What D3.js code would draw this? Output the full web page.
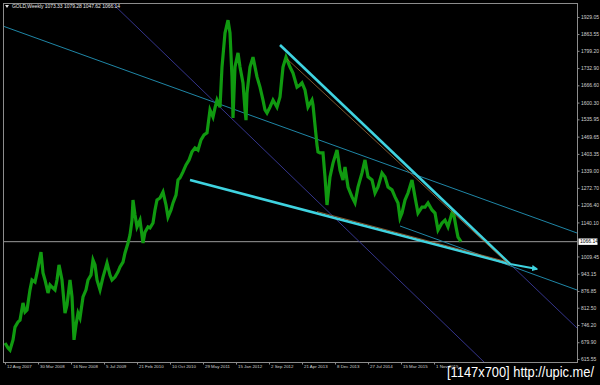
<!DOCTYPE html>
<html lang="en">
<head>
  <meta charset="UTF-8" />
  <title>GOLD,Weekly</title>
  <script src="https://d3js.org/d3.v7.min.js"></script>
  <style>
    html, body { margin: 0; padding: 0; background: #000; }
    svg { display: block; background: #000; }
    .tiny { font-family: "Liberation Sans", Arial, sans-serif; font-size: 5px; }
    .axis path, .axis line { stroke: #8c8c8c; }
    .axis text { fill: #d0d0d0; }
  </style>
</head>
<body>

<svg width="600" height="385"></svg>

<script>
  // weekly closes, week index from the first bar
  const weeks = [0,3,5,8,10,13,15,18,20,22,25,27,30,32,34,36,38,40,43,45,47,50,52,54,57,60,62,65,67,69,71,73,75,78,81,83,86,88,90,92,95,98,100,102,105,107,110,113,115,118,120,123,125,127,128,130,132,135,138,140,143,145,148,150,152,155,158,161,163,166,168,171,173,175,178,181,184,187,190,193,196,199,202,205,208,210,212,215,217,220,223,225,227,228,230,233,235,238,240,241,242,245,248,252,255,258,260,262,265,268,272,275,278,281,285,288,292,295,297,300,303,307,308,310,312,313,315,318,320,322,325,328,332,335,338,340,343,347,350,353,357,360,363,367,370,373,377,380,383,387,390,393,395,397,400,403,407,410,413,417,420,423,427,430,433,437,440,443,447,448,451,453,456];
  const closes = [677,658,650,689,738,758,765,831,796,804,881,919,911,946,988,1026,946,919,869,900,892,881,919,977,919,792,823,919,854,689,746,792,773,854,881,919,938,996,977,919,881,930,957,984,938,919,930,950,969,988,1023,1061,1092,1149,1226,1169,1123,1149,1061,1103,1123,1119,1138,1188,1226,1234,1257,1207,1161,1188,1215,1245,1303,1311,1334,1361,1380,1411,1426,1418,1457,1476,1484,1572,1545,1580,1610,1583,1737,1868,1917,1868,1699,1541,1737,1791,1737,1676,1572,1533,1637,1737,1775,1699,1660,1610,1572,1560,1583,1610,1583,1622,1737,1775,1737,1714,1660,1668,1676,1649,1583,1610,1591,1514,1437,1411,1407,1407,1315,1207,1315,1368,1418,1341,1303,1353,1276,1238,1215,1276,1330,1380,1315,1303,1253,1276,1330,1315,1276,1265,1238,1215,1157,1176,1226,1253,1303,1238,1176,1199,1199,1215,1188,1176,1111,1138,1149,1123,1176,1188,1123,1084,1066];

  const priceTicks = [1929.05,1863.55,1799.20,1732.90,1666.60,1600.30,1535.95,1469.65,1403.35,1339.00,1272.70,1206.40,1140.10,1009.45,943.15,876.85,812.50,746.20,679.90,615.55];
  const lastPrice = 1066.14;
  const dateWeeks = [0,33,66,99,132,165,198,231,264,297,330,363,396,429];
  const dateLabels = ["12 Aug 2007","30 Mar 2008","16 Nov 2008","5 Jul 2009","21 Feb 2010","10 Oct 2010","29 May 2011","15 Jan 2012","2 Sep 2012","21 Apr 2013","8 Dec 2013","27 Jul 2014","15 Mar 2015","1 Nov 2015"];
  const titleText = "GOLD,Weekly  1073.33 1079.28 1047.62 1066.14";

  // trend lines: [week1, price1, week2, price2]
  const thinLines = [[-5,1898.3,572,1099.5],[395,1126.4,572,880.6]];
  const navyLines = [[107,1982.8,480,600.2],[505,980.4,572,734.6]];
  const cyanLines = [[275,1821.5,505,980.4],[185,1303,505,980.4]];
  const brownLines = [[282,1768,505,975],[312,1182,500,991]];
  const arrowLine = [505,980.4,532,961.2];

  const svg = d3.select("svg");
  const plot = {left: 3.5, top: 3.5, right: 577.5, bottom: 362.5};

  const x = d3.scaleLinear().domain([0, 456]).range([5, 461]);
  const y = d3.scaleLinear().domain([615.55, 1929.05]).range([359, 17]);

  const defs = svg.append("defs");
  defs.append("clipPath").attr("id", "clip")
    .append("rect")
    .attr("x", plot.left).attr("y", plot.top)
    .attr("width", plot.right - plot.left).attr("height", plot.bottom - plot.top);
  defs.append("marker")
    .attr("id", "arrow")
    .attr("viewBox", "0 0 10 10")
    .attr("refX", 8).attr("refY", 5)
    .attr("markerWidth", 3.2).attr("markerHeight", 3.2)
    .attr("orient", "auto")
    .append("path").attr("d", "M0,0 L10,5 L0,10 z").attr("fill", "#3fd3e0");

  const g = svg.append("g").attr("clip-path", "url(#clip)");

  // current price line
  g.append("line")
    .attr("x1", plot.left).attr("x2", plot.right)
    .attr("y1", y(lastPrice)).attr("y2", y(lastPrice))
    .attr("stroke", "#9a9a9a").attr("stroke-width", 1);

  function drawLines(list, color, width) {
    g.selectAll(null).data(list).enter().append("line")
      .attr("x1", d => x(d[0])).attr("y1", d => y(d[1]))
      .attr("x2", d => x(d[2])).attr("y2", d => y(d[3]))
      .attr("stroke", color).attr("stroke-width", width);
  }

  drawLines(navyLines, "#34348a", 1);
  drawLines(thinLines, "#1f86a6", 1);

  // price series
  const series = weeks.map((w, i) => [w, closes[i]]);
  g.append("path")
    .datum(series)
    .attr("fill", "none")
    .attr("stroke", "#109a10")
    .attr("stroke-width", 3.2)
    .attr("stroke-linejoin", "miter")
    .attr("d", d3.line().x(d => x(d[0])).y(d => y(d[1])));

  drawLines(cyanLines, "#3fd3e0", 2.6);
  drawLines(brownLines, "#9a6a3a", 0.8);

  g.append("line")
    .attr("x1", x(arrowLine[0])).attr("y1", y(arrowLine[1]))
    .attr("x2", x(arrowLine[2])).attr("y2", y(arrowLine[3]))
    .attr("stroke", "#3fd3e0").attr("stroke-width", 2)
    .attr("marker-end", "url(#arrow)");

  // frame
  svg.append("rect")
    .attr("x", plot.left).attr("y", plot.top)
    .attr("width", plot.right - plot.left).attr("height", plot.bottom - plot.top)
    .attr("fill", "none").attr("stroke", "#8c8c8c").attr("stroke-width", 1);

  // price axis
  const yAxis = svg.append("g")
    .attr("class", "axis tiny")
    .attr("transform", `translate(${plot.right},0)`)
    .call(d3.axisRight(y).tickValues(priceTicks).tickSize(2).tickPadding(1.5).tickFormat(d3.format(".2f")));
  yAxis.select(".domain").remove();
  yAxis.selectAll("text").attr("font-size", 5).attr("font-family", "Liberation Sans, Arial, sans-serif");

  // last price marker
  svg.append("rect")
    .attr("x", 578.5).attr("y", y(lastPrice) - 3.2)
    .attr("width", 19).attr("height", 6.4)
    .attr("fill", "#ffffff");
  svg.append("text")
    .attr("class", "tiny")
    .attr("x", 580).attr("y", y(lastPrice) + 1.8)
    .attr("fill", "#000")
    .text(d3.format(".2f")(lastPrice));

  // date axis
  const xAxis = svg.append("g")
    .attr("class", "axis tiny")
    .attr("transform", `translate(0,${plot.bottom})`)
    .call(d3.axisBottom(x).tickValues(dateWeeks).tickSize(2).tickFormat((d, i) => dateLabels[i]));
  xAxis.select(".domain").remove();
  xAxis.selectAll("text")
    .attr("text-anchor", "start")
    .attr("dx", 1.5)
    .attr("dy", "0.1em")
    .attr("font-size", 4.4)
    .attr("fill", "#b5b5b5")
    .attr("font-family", "Liberation Sans, Arial, sans-serif");

  // title
  svg.append("path")
    .attr("d", "M5,5 L9,5 L7,8 z")
    .attr("fill", "#e0e0e0");
  svg.append("text")
    .attr("class", "tiny")
    .attr("x", 12).attr("y", 8)
    .attr("fill", "#e8e8e8")
    .attr("textLength", 108)
    .text(titleText);

  // watermark
  svg.append("text")
    .attr("x", 447).attr("y", 377)
    .attr("fill", "#ffffff")
    .attr("font-family", "Liberation Sans Narrow, Liberation Sans, Arial, sans-serif")
    .attr("font-size", 15)
    .attr("textLength", 147)
    .attr("lengthAdjust", "spacingAndGlyphs")
    .text("[1147x700] http://upic.me/");
</script>

</body>
</html>
